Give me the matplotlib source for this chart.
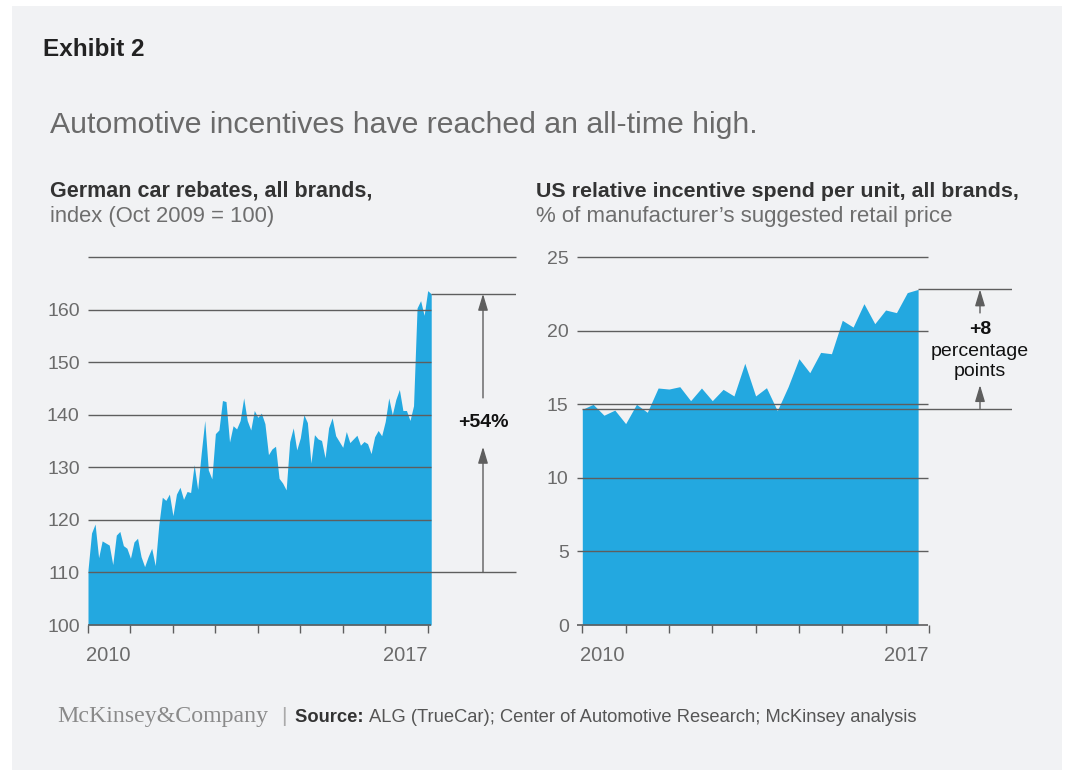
import matplotlib
matplotlib.use('Agg')
import matplotlib.pyplot as plt
import matplotlib.transforms as mtransforms
from matplotlib.patches import Rectangle
import numpy as np

plt.rcParams['font.family'] = ['Liberation Sans', 'DejaVu Sans']

# German car rebates index, monthly from Jan 2010
german = [110.5, 117.5, 119.2, 112.8, 116.0, 115.6, 115.2, 111.5, 117.1, 117.8,
          115.1, 114.6, 112.7, 115.8, 116.5, 113.0, 111.1, 113.0, 114.6, 111.3,
          119.0, 124.3, 123.7, 124.9, 120.8, 124.9, 126.2, 123.9, 125.4, 125.2,
          130.5, 125.8, 132.7, 138.9, 129.5, 127.8, 136.4, 137.1, 142.7, 142.5,
          134.8, 137.9, 137.3, 138.9, 143.2, 138.9, 137.1, 140.8, 139.5, 140.3,
          138.3, 132.4, 133.5, 134.0, 127.9, 127.0, 125.7, 134.9, 137.5, 133.3,
          135.6, 140.0, 138.5, 130.8, 136.2, 135.4, 135.1, 131.8, 137.5, 139.4,
          136.0, 134.9, 133.8, 136.8, 134.7, 135.4, 136.1, 134.2, 134.9, 134.5,
          132.6, 135.8, 137.0, 136.0, 138.7, 143.2, 140.0, 142.9, 144.8, 140.8,
          140.8, 138.9, 141.7, 160.3, 161.7, 158.9, 163.6, 163.0]

# US incentive spend, % of MSRP, quarterly from Q1 2010
us = [14.65, 14.99, 14.25, 14.6, 13.68, 14.99, 14.45, 16.1, 16.03, 16.19,
      15.24, 16.1, 15.24, 16.01, 15.56, 17.78, 15.56, 16.12, 14.56, 16.19,
      18.09, 17.14, 18.52, 18.43, 20.7, 20.24, 21.83, 20.47, 21.4, 21.22,
      22.58, 22.8]

years = list(range(2010, 2019))
year_labels = ['2010', '', '', '', '', '', '', '2017', '']
german_ticks = [100, 110, 120, 130, 140, 150, 160]
german_grid = [110, 120, 130, 140, 150, 160, 170]
us_ticks = [0, 5, 10, 15, 20, 25]

german_start, german_end = 110, 163
us_start, us_end = 14.7, 22.8

W, H = 1073, 776
BLUE = '#23a8e0'
GRID = '#5e5e5e'
TICKC = '#6b6b6b'


def fx(x):
    return x / W


def fy(y):
    return 1 - y / H


fig = plt.figure(figsize=(W / 100, H / 100), dpi=100)
fig.patch.set_facecolor('white')
fig.patches.append(Rectangle((fx(12), fy(770)), fx(1062) - fx(12), fy(6) - fy(770),
                             transform=fig.transFigure, facecolor='#f1f2f4',
                             edgecolor='none', zorder=-10))

fig.text(fx(43), fy(56), 'Exhibit 2', fontsize=17.5, fontweight='bold', color='#222222')
fig.text(fx(50), fy(133), 'Automotive incentives have reached an all-time high.',
         fontsize=21.8, color='#6a6a6a')
fig.text(fx(50), fy(197), 'German car rebates, all brands,', fontsize=15.5,
         fontweight='bold', color='#333333')
fig.text(fx(50), fy(222), 'index (Oct 2009 = 100)', fontsize=15.8, color='#6e6e6e')
fig.text(fx(536), fy(197), 'US relative incentive spend per unit, all brands,',
         fontsize=15.4, fontweight='bold', color='#333333')
fig.text(fx(536), fy(222), '% of manufacturer\u2019s suggested retail price',
         fontsize=16, color='#6e6e6e')

fig.text(fx(57), fy(722), 'McKinsey&Company', fontsize=17.2, color='#8a8a8a',
         family=['Liberation Serif', 'DejaVu Serif'])
fig.text(fx(281), fy(722), '|', fontsize=15, color='#aaaaaa')
src = fig.text(fx(295), fy(722), 'Source: ', fontsize=13.2, fontweight='bold', color='#333333')
renderer = fig.canvas.get_renderer()
bb = src.get_window_extent(renderer)
fig.text(bb.x1 / W, fy(722), 'ALG (TrueCar); Center of Automotive Research; McKinsey analysis',
         fontsize=13.2, color='#555555')


def style_axis(ax):
    ax.set_facecolor('none')
    for s in ax.spines.values():
        s.set_visible(False)
    ax.tick_params(axis='y', length=0, pad=6, labelsize=14, labelcolor=TICKC)
    ax.tick_params(axis='x', length=6, width=1, color=GRID, direction='out',
                   pad=9, labelsize=14.5, labelcolor=TICKC)
    ax.set_xticks(years)
    ax.set_xticklabels(year_labels, ha='left')
    shift = mtransforms.ScaledTranslation(-2 / 100, 0, fig.dpi_scale_trans)
    for lab in ax.get_xticklabels():
        lab.set_transform(lab.get_transform() + shift)


# ---- left chart ----
px_year_l = 42.46
axl = fig.add_axes([fx(88), fy(625), fx(516) - fx(88), fy(257) - fy(625)])
xl = 2010 + np.arange(len(german)) / 12
xl_end = xl[-1]
xl_max = 2010 + (516 - 88) / px_year_l
axl.set_xlim(2010, xl_max)
axl.set_ylim(100, 170)
axl.fill_between(xl, 100, german, color=BLUE, lw=0, zorder=1)
for v in german_grid:
    end = xl_max if v in (german_start, 170) else xl_end
    axl.hlines(v, 2010, end, color=GRID, lw=1, zorder=3, clip_on=False)
axl.hlines(100, 2010, xl_end, color=GRID, lw=1.2, zorder=3, clip_on=False)
axl.hlines(german_end, xl_end, xl_max, color=GRID, lw=1, zorder=3)
axl.set_yticks(german_ticks)
style_axis(axl)

xa = 2010 + (483 - 88) / px_year_l
arrow = dict(arrowstyle='-|>,head_length=1.0,head_width=0.3', color=GRID, lw=1,
             mutation_scale=10, shrinkA=0, shrinkB=0)
axl.annotate('', xy=(xa, german_end), xytext=(xa, 143.2), arrowprops=arrow)
axl.annotate('', xy=(xa, 133.9), xytext=(xa, german_start), arrowprops=arrow)
axl.text(xa, 138.5, '+54%', ha='center', va='center', fontsize=14,
         fontweight='bold', color='#111111')

# ---- right chart ----
px_year_r = 43.33
axr = fig.add_axes([fx(577), fy(625), fx(1012) - fx(577), fy(257) - fy(625)])
xr = 2010 + np.arange(len(us)) / 4
xr_end = xr[-1]
xr_min = 2010 - (582.3 - 577) / px_year_r
xr_max = 2010 + (1012 - 582.3) / px_year_r
xr_grid = 2010 + (928 - 582.3) / px_year_r
axr.set_xlim(xr_min, xr_max)
axr.set_ylim(0, 25)
axr.fill_between(xr, 0, us, color=BLUE, lw=0, zorder=1)
for v in us_ticks[1:]:
    axr.hlines(v, xr_min, xr_grid, color=GRID, lw=1, zorder=3, clip_on=False)
axr.hlines(0, xr_min, xr_grid, color=GRID, lw=1.2, zorder=3, clip_on=False)
axr.hlines(us_start, 2010, xr_max, color=GRID, lw=1, zorder=3)
axr.hlines(us_end, xr_end, xr_max, color=GRID, lw=1, zorder=3)
axr.set_yticks(us_ticks)
style_axis(axr)

xb = 2010 + (980 - 582.3) / px_year_r
axr.annotate('', xy=(xb, us_end), xytext=(xb, 21.2), arrowprops=arrow)
axr.annotate('', xy=(xb, 16.3), xytext=(xb, us_start), arrowprops=arrow)
axr.text(xb, 20.1, '+8', ha='center', va='center', fontsize=14,
         fontweight='bold', color='#111111')
axr.text(xb, 18.6, 'percentage', ha='center', va='center', fontsize=14, color='#111111')
axr.text(xb, 17.2, 'points', ha='center', va='center', fontsize=14, color='#111111')

fig.savefig('out.png', dpi=100, facecolor=fig.get_facecolor())
